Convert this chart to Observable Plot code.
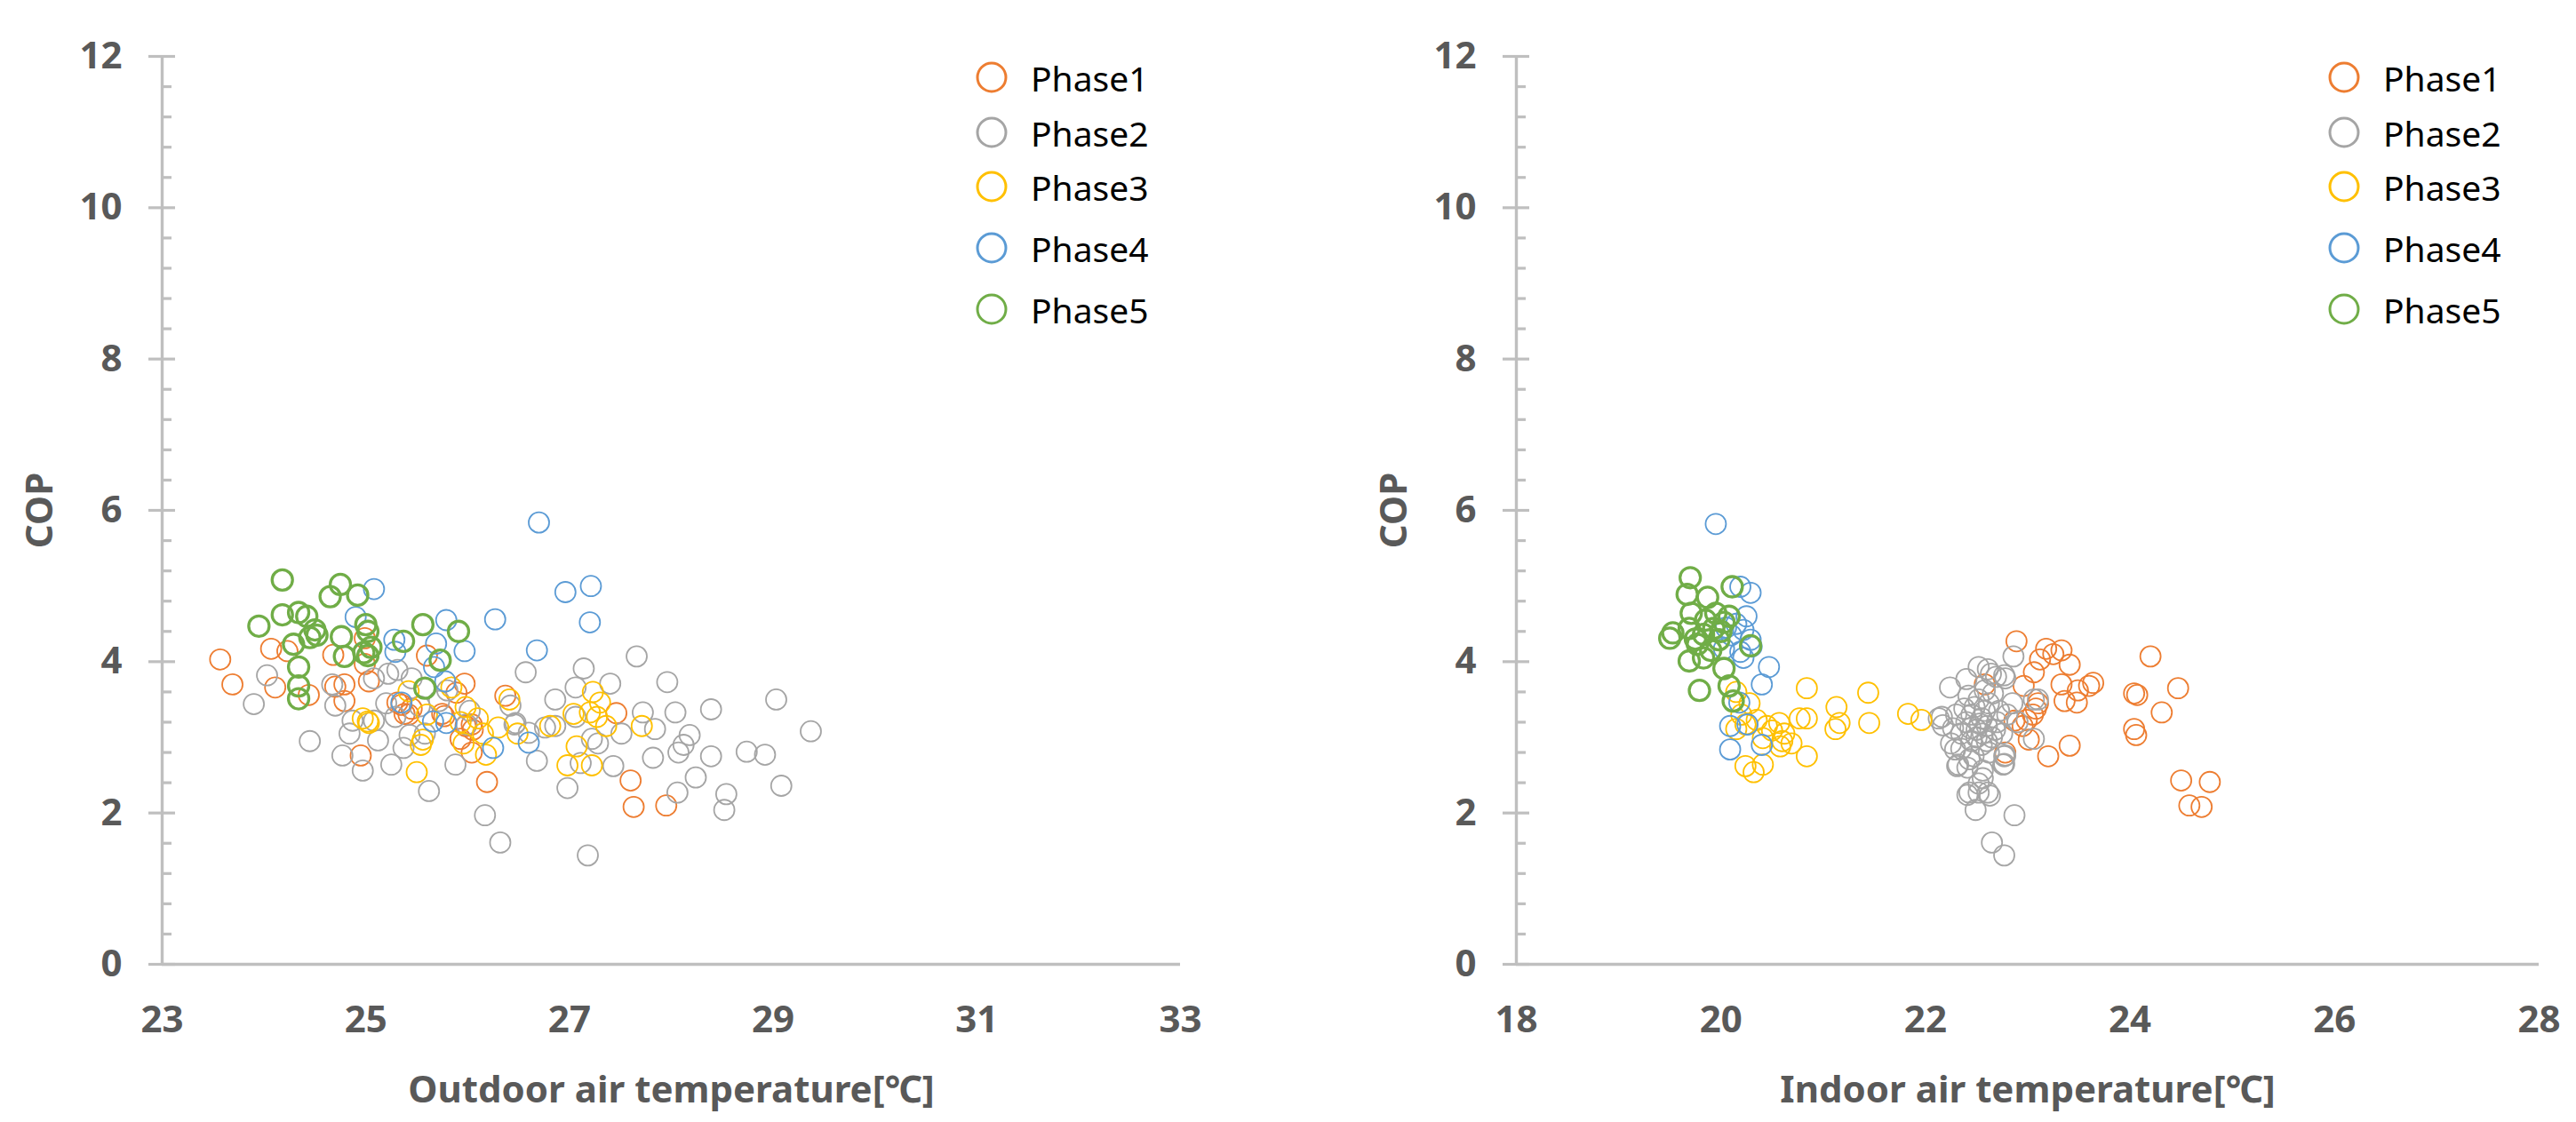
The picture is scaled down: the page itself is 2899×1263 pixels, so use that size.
<!DOCTYPE html>
<html>
<head>
<meta charset="utf-8">
<script src="https://cdn.jsdelivr.net/npm/d3@7"></script>
<script src="https://cdn.jsdelivr.net/npm/@observablehq/plot@0.6"></script>
<style>
  html, body { margin: 0; padding: 0; background: #fff; }
  #wrap { position: relative; width: 2899px; height: 1263px; display: flex; overflow: hidden; font-family: "Noto Sans", "Open Sans", sans-serif; }
  #wrap svg { display: block; overflow: visible; }
  .row { position: absolute; display: flex; align-items: center; height: 50px; font-size: 39px; color: #000; white-space: nowrap; }
  .row svg { margin-right: 24px; }
</style>
</head>
<body>
<div id="wrap"></div>
<script>
// ---------------- data ----------------
const phases = ["Phase1", "Phase2", "Phase3", "Phase4", "Phase5"];
const phaseColors = ["#ED7D31", "#A5A5A5", "#FFC000", "#5B9BD5", "#70AD47"];
const yTicks = [0, 2, 4, 6, 8, 10, 12];
const outdoorTicks = [23, 25, 27, 29, 31, 33];
const indoorTicks = [18, 20, 22, 24, 26, 28];

// Outdoor air temperature [°C] vs COP
const outdoorPhase1 = [[23.57,4.03],[23.69,3.70],[24.07,4.17],[24.23,4.14],[24.11,3.66],[24.44,3.56],[24.68,4.09],[24.99,4.31],[24.99,3.97],[24.79,3.70],[24.70,3.67],[24.79,3.48],[25.03,3.74],[25.60,4.08],[25.97,3.71],[25.89,3.59],[25.31,3.46],[25.38,3.31],[25.45,3.38],[25.75,3.31],[25.98,3.15],[26.04,2.80],[24.95,2.76],[26.19,2.41],[26.37,3.55],[27.46,3.32],[27.60,2.43],[27.63,2.08],[27.95,2.10],[25.35,3.43],[25.42,3.30],[25.77,3.28],[26.05,3.10],[25.93,2.98],[26.04,3.17]];
const outdoorPhase2 = [[23.90,3.44],[24.03,3.82],[24.45,2.95],[24.67,3.70],[24.70,3.42],[24.77,2.76],[24.97,2.56],[24.84,3.05],[25.12,2.96],[25.08,3.78],[25.22,3.84],[25.31,3.89],[25.45,3.78],[25.37,2.86],[25.25,2.64],[25.88,2.64],[25.62,2.29],[26.47,3.19],[26.57,3.86],[26.42,3.42],[26.17,1.97],[26.32,1.61],[26.68,2.69],[26.86,3.50],[27.06,3.66],[27.14,3.91],[26.98,2.33],[27.18,1.44],[27.40,3.71],[27.66,4.07],[27.43,2.62],[27.72,3.33],[27.82,2.73],[27.96,3.73],[28.04,3.33],[28.06,2.27],[28.24,2.47],[28.18,3.03],[28.12,2.90],[28.07,2.80],[28.39,3.37],[28.39,2.75],[28.54,2.25],[28.52,2.04],[28.74,2.81],[28.92,2.77],[29.03,3.50],[29.08,2.36],[29.37,3.08],[27.84,3.11],[27.51,3.05],[27.22,2.98],[27.11,2.66],[26.76,3.13],[26.86,3.15],[26.46,3.17],[25.99,3.17],[25.53,3.41],[25.43,3.03],[25.29,3.27],[25.08,3.22],[24.87,3.22],[27.06,3.27],[25.72,3.48],[25.58,3.05],[25.20,3.45],[26.02,3.35],[27.28,2.92],[25.80,3.62],[26.60,3.06]];
const outdoorPhase3 = [[24.97,3.25],[25.03,3.19],[25.02,3.21],[25.42,3.61],[25.50,2.54],[25.54,2.90],[25.56,2.97],[25.84,3.66],[25.98,3.40],[26.10,3.25],[25.93,3.20],[25.96,2.92],[26.18,2.77],[26.30,3.13],[26.49,3.05],[26.41,3.50],[26.81,3.15],[27.04,3.31],[27.23,3.60],[27.30,3.46],[27.20,3.33],[27.27,3.27],[27.36,3.15],[27.71,3.15],[27.07,2.88],[26.98,2.63],[27.22,2.63],[26.15,3.05],[25.60,3.30]];
const outdoorPhase4 = [[25.08,4.96],[24.90,4.59],[25.28,4.29],[25.29,4.13],[25.79,4.55],[25.69,4.24],[25.97,4.14],[25.67,3.93],[26.27,4.56],[26.70,5.84],[26.68,4.15],[26.96,4.92],[27.21,5.00],[27.20,4.52],[25.35,3.46],[25.66,3.21],[25.79,3.19],[26.25,2.86],[26.60,2.93],[25.78,3.74]];
const outdoorPhase5 = [[24.18,5.08],[24.75,5.02],[24.65,4.86],[24.92,4.88],[23.95,4.47],[24.18,4.62],[24.34,4.65],[24.42,4.60],[24.50,4.42],[24.45,4.32],[24.29,4.23],[24.76,4.33],[25.00,4.49],[25.02,4.40],[25.05,4.19],[25.02,4.08],[24.79,4.07],[24.34,3.93],[24.34,3.68],[24.34,3.51],[25.56,4.49],[25.37,4.27],[25.91,4.40],[25.73,4.02],[25.58,3.65],[24.52,4.35],[24.98,4.12]];

// Indoor air temperature [°C] vs COP
const indoorPhase1 = [[22.89,4.27],[23.18,4.17],[23.33,4.15],[23.12,4.03],[23.25,4.10],[23.41,3.96],[23.06,3.86],[22.96,3.68],[23.33,3.70],[23.64,3.72],[23.60,3.68],[23.49,3.62],[23.36,3.48],[23.48,3.46],[24.20,4.07],[24.04,3.58],[24.07,3.56],[24.47,3.65],[24.31,3.33],[24.04,3.11],[24.06,3.03],[24.50,2.43],[24.78,2.41],[24.58,2.10],[24.70,2.08],[23.20,2.75],[23.41,2.89],[22.99,3.23],[23.05,3.30],[23.08,3.38],[22.95,3.15],[23.01,2.97],[22.78,2.80],[22.87,3.22],[23.10,3.45],[22.58,3.70]];
const indoorPhase2 = [[22.24,3.66],[22.40,3.77],[22.52,3.93],[22.61,3.90],[22.64,3.84],[22.77,3.82],[22.86,4.07],[22.69,3.80],[22.78,3.78],[23.10,3.50],[23.06,3.50],[22.13,3.25],[22.17,3.16],[22.16,3.27],[22.25,2.92],[22.29,2.84],[22.31,2.62],[22.32,2.64],[22.41,2.60],[22.43,2.71],[22.56,2.56],[22.76,2.64],[22.77,2.75],[22.78,2.76],[22.77,2.65],[22.41,2.24],[22.49,2.04],[22.52,2.27],[22.63,2.23],[22.56,2.46],[22.52,2.39],[22.43,2.27],[22.61,2.27],[22.65,1.61],[22.77,1.44],[22.87,1.97],[23.06,2.98],[22.35,3.05],[22.40,3.20],[22.45,3.30],[22.50,3.10],[22.55,3.25],[22.60,3.15],[22.48,3.40],[22.52,3.50],[22.58,3.35],[22.62,3.45],[22.45,2.95],[22.55,2.90],[22.65,3.00],[22.70,3.20],[22.38,3.38],[22.42,3.55],[22.58,3.62],[22.66,3.58],[22.72,3.35],[22.50,3.00],[22.35,2.85],[22.62,2.80],[22.47,2.75],[22.30,3.30],[22.68,3.10],[22.56,3.05],[22.44,3.12],[22.53,3.18],[22.60,2.95],[22.75,3.05],[22.80,3.30],[22.85,3.45],[22.90,3.20],[22.27,3.12]];
const indoorPhase3 = [[20.15,3.60],[20.84,3.65],[21.44,3.59],[21.13,3.40],[21.16,3.19],[21.12,3.11],[21.45,3.19],[21.83,3.31],[21.96,3.23],[20.84,3.25],[20.77,3.25],[20.57,3.19],[20.69,2.92],[20.84,2.75],[20.58,2.88],[20.50,3.09],[20.35,3.23],[20.24,3.17],[20.15,3.11],[20.24,2.62],[20.41,2.64],[20.32,2.54],[20.41,2.99],[20.62,3.05],[20.28,3.45],[20.45,3.15],[20.60,2.95],[20.20,3.30]];
const indoorPhase4 = [[19.95,5.82],[20.19,4.99],[20.29,4.91],[20.25,4.60],[20.22,4.42],[20.29,4.29],[20.19,4.13],[20.03,4.17],[20.47,3.93],[20.40,3.70],[20.18,3.46],[20.09,3.15],[20.26,3.17],[20.09,2.84],[20.40,2.90],[20.15,4.50],[20.30,4.20],[20.10,4.35],[20.22,4.05],[20.05,4.45]];
const indoorPhase5 = [[19.70,5.11],[19.67,4.89],[19.87,4.85],[20.11,4.99],[19.71,4.64],[19.95,4.64],[20.08,4.60],[19.53,4.38],[19.50,4.31],[19.69,4.44],[19.83,4.36],[19.93,4.44],[20.03,4.52],[19.69,4.01],[19.83,4.05],[19.98,4.29],[19.77,4.23],[20.29,4.21],[20.03,3.91],[20.08,3.68],[19.79,3.62],[20.12,3.48],[19.90,4.15],[19.85,4.55],[19.75,4.30],[20.00,4.40]];

// ---------------- drawing ----------------
const axisColor = "#BFBFBF";
const labelColor = "#595959";
const fontFamily = '"Noto Sans", "Open Sans", sans-serif';
const yMinor = d3.range(0, 60).map(i => i * 0.4).filter((v, i) => i % 5 !== 0 && v < 12);

function panel({series, xDomain, xTicks, xLabel, width, marginLeft, marginRight}) {
  return Plot.plot({
    width, height: 1263,
    marginLeft, marginRight, marginTop: 63, marginBottom: 178,
    style: {fontFamily, background: "white", overflow: "visible"},
    x: {domain: xDomain, nice: false},
    y: {domain: [0, 12], nice: false},
    marks: [
      Plot.ruleX([xDomain[0]], {y1: 0, y2: 12, stroke: axisColor, strokeWidth: 3.4}),
      Plot.ruleY([0], {stroke: axisColor, strokeWidth: 3.4}),
      Plot.axisY({ticks: yMinor, tickSize: 11, dx: 11, fill: "none", stroke: axisColor, strokeWidth: 3.2, label: null}),
      Plot.axisY({ticks: yTicks, tickSize: 30, dx: 15, fill: "none", stroke: axisColor, strokeWidth: 3.2, label: null}),
      Plot.axisY({ticks: yTicks, tickSize: 0, tickPadding: 45, fontSize: 42, fontWeight: "bold", fill: labelColor,
        label: "COP", labelAnchor: "center", labelOffset: 153, labelArrow: "none"}),
      Plot.axisX({ticks: xTicks, tickSize: 0, tickPadding: 47, fontSize: 42, fontWeight: "bold", fill: labelColor,
        label: xLabel, labelAnchor: "center", labelOffset: 155, labelArrow: "none"}),
      ...series.map((s, i) => Plot.dot(s, {
        x: d => d[0], y: d => d[1], r: 11.5, fill: "none",
        stroke: phaseColors[i], strokeWidth: i === 4 ? 3.3 : 1.8
      }))
    ]
  });
}

const wrap = document.getElementById("wrap");
wrap.append(panel({
  series: [outdoorPhase1, outdoorPhase2, outdoorPhase3, outdoorPhase4, outdoorPhase5],
  xDomain: [23, 33], xTicks: outdoorTicks, xLabel: "Outdoor air temperature[℃]",
  width: 1449, marginLeft: 182, marginRight: 121
}));
wrap.append(panel({
  series: [indoorPhase1, indoorPhase2, indoorPhase3, indoorPhase4, indoorPhase5],
  xDomain: [18, 28], xTicks: indoorTicks, xLabel: "Indoor air temperature[℃]",
  width: 1450, marginLeft: 257, marginRight: 42
}));

// legends (HTML, positioned over each panel)
const legendRowsY = [87, 149, 210, 279, 348];
function legend(markerX) {
  phases.forEach((p, i) => {
    const row = document.createElement("div");
    row.className = "row";
    row.style.left = (markerX - 20) + "px";
    row.style.top = (legendRowsY[i] - 25) + "px";
    row.innerHTML = `<svg width="40" height="40"><circle cx="20" cy="20" r="16" fill="none" stroke="${phaseColors[i]}" stroke-width="3"/></svg><span>${p}</span>`;
    wrap.append(row);
  });
}
legend(1116);
legend(2638);
</script>
</body>
</html>
